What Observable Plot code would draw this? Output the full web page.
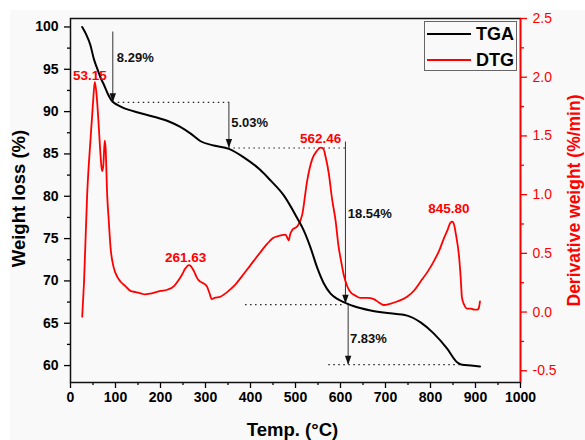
<!DOCTYPE html>
<html>
<head>
<meta charset="utf-8">
<script src="https://cdn.jsdelivr.net/npm/d3@7"></script>
<script src="https://cdn.jsdelivr.net/npm/@observablehq/plot@0.6"></script>
<style>
  html, body { margin: 0; padding: 0; background: #ffffff; }
  #chart { position: relative; width: 585px; height: 440px; font-family: "Liberation Sans", Arial, sans-serif; }
  #legend { position: absolute; left: 424px; top: 21px; width: 93px; height: 50px; border: 1px solid #666; box-sizing: border-box; }
  #legend .row { position: absolute; left: 0; display: flex; align-items: center; }
  #legend .sw { width: 44px; height: 0; margin-left: 2px; }
  #legend .lb { margin-left: 5px; font-weight: bold; font-size: 18px; color: #000; line-height: 20px; font-family: "Liberation Sans", Arial, sans-serif; }
</style>
</head>
<body>
<div id="chart"></div>
<script>
// ---------- data ----------
const tgaTemp = [26,35,44,52,60,67,74,82,89,95,104,115,130,150,185,220,244,267,289,318,352,385,422,444,474,504,518,533,548,563,578,592,607,630,667,704,748,778,807,837,859,870,890,910];
const tgaWeight = [100,99.1,97.9,96.2,95.0,94.0,93.2,92.2,91.5,91.1,90.8,90.5,90.2,89.9,89.4,88.8,88.2,87.4,86.5,86.0,85.6,84.6,83.1,81.9,80.1,77.4,76.0,74.0,71.6,69.7,68.5,67.9,67.5,67.0,66.5,66.2,65.9,65.1,63.8,62.0,60.4,60.1,60.0,59.9];

const dtgTemp = [26,30,37,45,50,54,58,63,67,70,73,76,78,81.5,85,89,96,104,111,122,133,145,156,165,180,200,215,230,240,248,255,263,268,274,280,285,293,303,309,314,320,333,348,363,380,400,420,437,450,465,478,482,485,488,493,504,515,526,537,547,556,562,567,574,581,589,596,602,607,615,622,633,644,660,674,686,696,710,726,748,765,778,793,807,820,830,838,844,849,852,857,863,867,870,875,881,890,897,904,907,910];
const dtgValue = [-0.04,0.25,1.0,1.5,1.78,1.96,1.85,1.57,1.32,1.20,1.25,1.46,1.40,1.0,0.78,0.55,0.38,0.30,0.26,0.22,0.18,0.17,0.16,0.15,0.16,0.18,0.19,0.22,0.27,0.32,0.37,0.40,0.39,0.35,0.30,0.27,0.25,0.22,0.16,0.11,0.12,0.13,0.17,0.22,0.30,0.40,0.50,0.58,0.63,0.65,0.66,0.63,0.61,0.66,0.70,0.73,0.83,1.12,1.30,1.37,1.40,1.39,1.32,1.18,0.97,0.78,0.55,0.42,0.32,0.22,0.17,0.14,0.12,0.12,0.11,0.08,0.06,0.07,0.09,0.13,0.19,0.26,0.34,0.43,0.53,0.63,0.70,0.76,0.77,0.75,0.65,0.49,0.30,0.12,0.06,0.03,0.03,0.02,0.02,0.03,0.09];

const xTicks = [0,100,200,300,400,500,600,700,800,900,1000];
const xMinorTicks = [50,150,250,350,450,550,650,750,850,950];
const weightTicks = [60,65,70,75,80,85,90,95,100];
const weightMinorTicks = [62.5,67.5,72.5,77.5,82.5,87.5,92.5,97.5];
const dtgTicks = [-0.5,0.0,0.5,1.0,1.5,2.0,2.5];
const dtgMinorTicks = [-0.25,0.25,0.75,1.25,1.75,2.25];

const peakLabels = ["53.15","261.63","562.46","845.80"];
const peakTemp = [43,256,556,841];
const peakWeight = [94.2,72.8,86.8,78.5];

const lossLabels = ["8.29%","5.03%","18.54%","7.83%"];
const lossTemp = [103,357,616,621];
const lossWeight = [96.4,88.7,77.9,63.2];

const levelWeight = [91.1,85.7,67.2,60.1];
const levelFrom = [95,352,389,574];
const levelTo = [353,611,611,867];

const arrowTemp = [94,352,611,617];
const arrowTop = [99.4,91.1,86.4,67.2];
const arrowTip = [91.1,85.7,67.3,60.1];

const titles = ["Weight loss (%)", "Derivative weight (%/min)", "Temp. (\u00B0C)"];

// ---------- scales helpers ----------
const wDomain = [58, 101];
const dDomain = [-0.6, 2.5];
const k = (wDomain[1] - wDomain[0]) / (dDomain[1] - dDomain[0]);
const toW = d => wDomain[0] + (d - dDomain[0]) * k;
const fromW = w => dDomain[0] + (w - wDomain[0]) / k;
const fmtD = w => d3.format(".1f")(Math.round(fromW(w) * 10) / 10).replace("\u2212", "-");

const tga = tgaTemp.map((t, i) => ({t, w: tgaWeight[i]}));
const dtg = dtgTemp.map((t, i) => ({t, w: toW(dtgValue[i])}));
const peaks = peakLabels.map((s, i) => ({s, t: peakTemp[i], w: peakWeight[i]}));
const losses = lossLabels.map((s, i) => ({s, t: lossTemp[i], w: lossWeight[i]}));
const levels = levelWeight.map((w, i) => ({w, x1: levelFrom[i], x2: levelTo[i]}));
const arrows = arrowTemp.map((t, i) => ({t, y1: arrowTop[i], y2: arrowTip[i]}));

const arrowHead = {
  draw(context) {
    context.moveTo(0, 0);
    context.lineTo(-3.2, -9);
    context.lineTo(3.2, -9);
    context.closePath();
  }
};

const font = '"Liberation Sans", Arial, sans-serif';

const chart = Plot.plot({
  width: 585,
  height: 440,
  marginLeft: 70,
  marginRight: 65,
  marginTop: 18,
  marginBottom: 58,
  style: {
    fontFamily: font,
    background: "linear-gradient(to right, #ffffff 10px, transparent 10px), linear-gradient(to bottom, #ffffff 10px, #f9f9f9 10px)",
    overflow: "visible"
  },
  x: {domain: [0, 1000]},
  y: {domain: wDomain},
  marks: [
    // axes
    Plot.axisX({ticks: xTicks, tickSize: 6, tickPadding: 4, fontSize: 14, fontWeight: "bold", label: null, strokeWidth: 1.3, tickFormat: d => String(d)}),
    Plot.axisX({ticks: xMinorTicks, tickSize: 3, tickFormat: () => "", label: null, strokeWidth: 1.3}),
    Plot.axisY({ticks: weightTicks, tickSize: 6, tickPadding: 6, fontSize: 14, fontWeight: "bold", label: null, strokeWidth: 1.3, tickFormat: d => String(d)}),
    Plot.axisY({ticks: weightMinorTicks, tickSize: 3, tickFormat: () => "", label: null, strokeWidth: 1.3}),
    Plot.axisY({anchor: "right", ticks: dtgTicks.map(toW), tickSize: 6, tickPadding: 6, fontSize: 14, label: null, color: "#ff0000", strokeWidth: 1.3, tickFormat: fmtD}),
    Plot.axisY({anchor: "right", ticks: dtgMinorTicks.map(toW), tickSize: 3, tickFormat: () => "", label: null, color: "#ff0000", strokeWidth: 1.3}),
    // annotations
    Plot.ruleY(levels, {y: "w", x1: "x1", x2: "x2", stroke: "#222", strokeWidth: 1.2, strokeDasharray: "1.5,3.5"}),
    Plot.ruleX(arrows, {x: "t", y1: "y1", y2: "y2", stroke: "#333", strokeWidth: 1}),
    Plot.dot(arrows, {x: "t", y: "y2", symbol: arrowHead, fill: "#111", stroke: "none", r: 3}),
    // curves
    Plot.line(dtg, {x: "t", y: "w", stroke: "#ff0000", strokeWidth: 1.8, curve: "monotone-x"}),
    Plot.line(tga, {x: "t", y: "w", stroke: "#000", strokeWidth: 2, curve: "monotone-x"}),
    // labels
    Plot.text(peaks, {x: "t", y: "w", text: "s", fill: "#ff0000", fontSize: 13.5, fontWeight: "bold"}),
    Plot.text(losses, {x: "t", y: "w", text: "s", fill: "#111", fontSize: 13, fontWeight: "bold", textAnchor: "start"}),
    // frame
    Plot.frame({stroke: "#111", strokeWidth: 1.5}),
    Plot.ruleX([1000], {stroke: "#ff0000", strokeWidth: 1.5}),
    // axis titles
    Plot.text([titles[0]], {frameAnchor: "left", dx: -51, dy: -2, rotate: -90, textAnchor: "middle", lineAnchor: "middle", fontSize: 18.5, fontWeight: "bold", fill: "#000"}),
    Plot.text([titles[1]], {frameAnchor: "right", dx: 54, rotate: -90, textAnchor: "middle", lineAnchor: "middle", fontSize: 17.5, fontWeight: "bold", fill: "#ff0000"}),
    Plot.text([titles[2]], {frameAnchor: "bottom", dy: 48, dx: -3, textAnchor: "middle", lineAnchor: "middle", fontSize: 18.5, fontWeight: "bold", fill: "#000"})
  ]
});

const root = document.getElementById("chart");
root.appendChild(chart);

// legend
const legend = document.createElement("div");
legend.id = "legend";
const series = [["TGA", "#000"], ["DTG", "#ff0000"]];
series.forEach(([name, color], i) => {
  const row = document.createElement("div");
  row.className = "row";
  row.style.top = (i === 0 ? 2 : 28) + "px";
  const sw = document.createElement("div");
  sw.className = "sw";
  sw.style.borderTop = "2px solid " + color;
  const lb = document.createElement("span");
  lb.className = "lb";
  lb.textContent = name;
  row.appendChild(sw);
  row.appendChild(lb);
  legend.appendChild(row);
});
root.appendChild(legend);
</script>
</body>
</html>
